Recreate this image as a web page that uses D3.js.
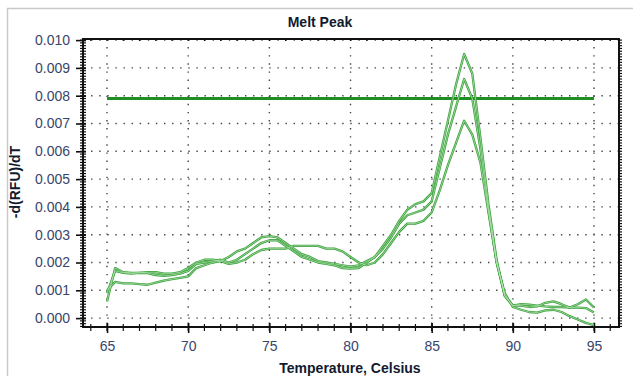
<!DOCTYPE html>
<html>
<head>
<meta charset="utf-8">
<script src="https://cdnjs.cloudflare.com/ajax/libs/d3/7.8.5/d3.min.js"></script>
<style>
  body { margin: 0; background: #fff; }
  svg { display: block; font-family: "Liberation Sans", Arial, sans-serif; }
</style>
</head>
<body>
<svg id="melt_peak" width="633" height="376"></svg>
<script>
// melt peak data, one point every 0.5 C
const temps = d3.range(65, 95.01, 0.5)

const well1 = [
  0.0006, 0.0018, 0.00165, 0.00163, 0.00163, 0.00165, 0.00165, 0.0016, 0.0016, 0.00165, 0.0018,
  0.002, 0.0021, 0.0021, 0.00205, 0.0022, 0.0024, 0.0025, 0.0027, 0.0029, 0.00295,
  0.0029, 0.0027, 0.0025, 0.0023, 0.0022, 0.00205, 0.002, 0.00195, 0.0019, 0.00185,
  0.0019, 0.00205, 0.0022, 0.0026, 0.003, 0.0035, 0.0039, 0.0041, 0.0042, 0.0045,
  0.0058, 0.0071, 0.0084, 0.0095, 0.0088, 0.0065, 0.0041, 0.0021, 0.0008, 0.00045,
  0.00045, 0.0004, 0.00042, 0.00055, 0.0006, 0.0005, 0.00038, 0.0005, 0.00067, 0.00038
]
const well2 = [
  0.0009, 0.0017, 0.00163, 0.0016, 0.00163, 0.00162, 0.00155, 0.00152, 0.00155, 0.0016, 0.0017,
  0.00195, 0.002, 0.00205, 0.0021, 0.002, 0.0021, 0.0023, 0.0025, 0.0027, 0.0028,
  0.0028, 0.0026, 0.0024, 0.0022, 0.0021, 0.002, 0.00195, 0.0019, 0.0018, 0.00178,
  0.0018, 0.002, 0.0022, 0.0025, 0.0029, 0.0034, 0.0037, 0.0038, 0.0039, 0.0042,
  0.0054, 0.0066, 0.0076, 0.0086, 0.0079, 0.0061, 0.0039, 0.002, 0.0008, 0.00045,
  0.0005, 0.00048, 0.00045, 0.00042, 0.0004, 0.0004, 0.00038, 0.00038, 0.00036, 0.0002
]
const well3 = [
  0.001, 0.0013, 0.00125, 0.00125, 0.00122, 0.0012, 0.00128, 0.00135, 0.0014, 0.00145, 0.0015,
  0.0018, 0.0019, 0.002, 0.00205, 0.00195, 0.002, 0.0021, 0.0023, 0.00245, 0.0025,
  0.0025, 0.0025, 0.0026, 0.0026, 0.0026, 0.0026, 0.0025, 0.0025, 0.0024, 0.0022,
  0.002, 0.0019, 0.002, 0.0023, 0.0027, 0.0031, 0.0034, 0.0034, 0.0035, 0.0038,
  0.0046, 0.0055, 0.0063, 0.0071, 0.0066, 0.0056, 0.0038, 0.002, 0.0009, 0.0004,
  0.0003, 0.00022, 0.0002, 0.00028, 0.0003, 0.00022, 0.00007, -0.00005, -0.00017, -0.00025
]
const threshold = 0.0079

const xTicks = [65, 70, 75, 80, 85, 90, 95]
const yTicks = [0, 0.001, 0.002, 0.003, 0.004, 0.005, 0.006, 0.007, 0.008, 0.009, 0.010]

const svg = d3.select("#melt_peak")

// plot box
const box = {left: 83, right: 619, top: 39, bottom: 327}

const x = d3.scaleLinear().domain([63.52, 96.54]).range([box.left, box.right])
const y = d3.scaleLinear().domain([-0.00032, 0.01004]).range([box.bottom, box.top])

// outer frame of the screenshot
svg.append("path")
  .attr("d", "M7.5,376V8.5H633")
  .attr("fill", "none")
  .attr("stroke", "#c9c9c9")
  .attr("stroke-width", 1.5)

// title + axis titles
svg.append("text")
  .attr("x", 320).attr("y", 27)
  .attr("text-anchor", "middle")
  .style("font-size", "14px").style("font-weight", "bold")
  .attr("fill", "#111a2e")
  .text("Melt Peak")

svg.append("text")
  .attr("x", 350).attr("y", 373)
  .attr("text-anchor", "middle")
  .style("font-size", "14px").style("font-weight", "bold")
  .attr("fill", "#111a2e")
  .text("Temperature, Celsius")

svg.append("text")
  .attr("transform", "translate(20,182) rotate(-90)")
  .attr("text-anchor", "middle")
  .style("font-size", "14px").style("font-weight", "bold")
  .attr("fill", "#111a2e")
  .text("-d(RFU)/dT")

// dotted grid
const grid = svg.append("g").attr("stroke", "#444").attr("stroke-width", 1.4)
  .attr("stroke-dasharray", "1.4,6.7")
grid.selectAll(".gx").data(xTicks).enter().append("line")
  .attr("x1", d => x(d)).attr("x2", d => x(d))
  .attr("y1", box.top).attr("y2", box.bottom)
grid.selectAll(".gy").data(yTicks).enter().append("line")
  .attr("x1", box.left).attr("x2", box.right)
  .attr("y1", d => y(d)).attr("y2", d => y(d))

// minor ticks
const yMinor = d3.range(-3, 101).map(i => i * 0.0001)
const xMinor = d3.range(64, 97)

const tickColor = "#111"
const ticks = svg.append("g").attr("stroke", tickColor).attr("stroke-width", 1.2)

ticks.selectAll(".ly").data(yMinor).enter().append("line")
  .attr("x1", box.left - 3).attr("x2", box.left + 3)
  .attr("y1", d => y(d)).attr("y2", d => y(d))
ticks.selectAll(".ry").data(yMinor).enter().append("line")
  .attr("x1", box.right).attr("x2", box.right + 3)
  .attr("y1", d => y(d)).attr("y2", d => y(d))
ticks.selectAll(".bx").data(xMinor).enter().append("line")
  .attr("x1", d => x(d)).attr("x2", d => x(d))
  .attr("y1", box.bottom - 3).attr("y2", box.bottom + 4)
ticks.selectAll(".tx").data(xMinor).enter().append("line")
  .attr("x1", d => x(d)).attr("x2", d => x(d))
  .attr("y1", box.top - 1).attr("y2", box.top + 2)

// major ticks via d3 axes
const xAxis = d3.axisBottom(x).tickValues(xTicks).tickSize(6).tickPadding(8)
  .tickFormat(d3.format("d"))
const yAxis = d3.axisLeft(y).tickValues(yTicks).tickSize(7).tickPadding(6)
  .tickFormat(d3.format(".3f"))

const gx = svg.append("g")
  .attr("transform", "translate(0," + box.bottom + ")")
  .call(xAxis)
gx.select(".domain").remove()
gx.selectAll(".tick line").attr("stroke", tickColor).attr("stroke-width", 1.6).attr("y1", -4)
gx.selectAll(".tick text").style("font-size", "14px").attr("fill", "#37466a")

const gy = svg.append("g")
  .attr("transform", "translate(" + box.left + ",0)")
  .call(yAxis)
gy.select(".domain").remove()
gy.selectAll(".tick line").attr("stroke", tickColor).attr("stroke-width", 1.6).attr("x1", 3)
gy.selectAll(".tick text").style("font-size", "14px").attr("fill", "#37466a")

// plot border
svg.append("rect")
  .attr("x", box.left).attr("y", box.top)
  .attr("width", box.right - box.left).attr("height", box.bottom - box.top)
  .attr("fill", "none").attr("stroke", "#111").attr("stroke-width", 2)

// threshold line
svg.append("line")
  .attr("x1", x(65)).attr("x2", x(95))
  .attr("y1", y(threshold)).attr("y2", y(threshold))
  .attr("stroke", "#1f8f24").attr("stroke-width", 3)

// melt curves
const wells = [well1, well2, well3]
const line = d3.line()
  .x((d, i) => x(temps[i]))
  .y(d => y(d))

const curves = svg.append("g")
curves.selectAll(".outer").data(wells).enter().append("path")
  .attr("d", line)
  .attr("fill", "none")
  .attr("stroke", "#35a035")
  .attr("stroke-width", 2.3)
  .attr("stroke-linejoin", "round")
curves.selectAll(".inner").data(wells).enter().append("path")
  .attr("d", line)
  .attr("fill", "none")
  .attr("stroke", "#bfe6bf")
  .attr("stroke-width", 0.7)
  .attr("stroke-linejoin", "round")
</script>
</body>
</html>
